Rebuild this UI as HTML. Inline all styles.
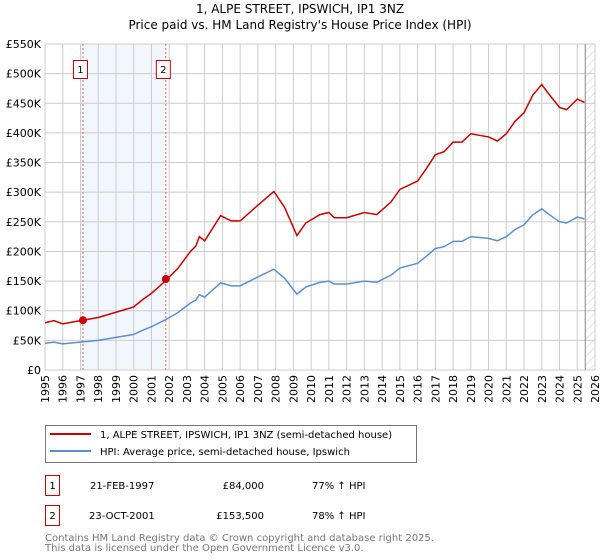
<!DOCTYPE html>
<html><head><meta charset="utf-8">
<style>
body{margin:0;background:#fff;font-family:"DejaVu Sans","Liberation Sans",sans-serif;}
svg{display:block}
</style></head>
<body>
<svg id="chart" width="600" height="560">
<defs>
<pattern id="hatch" width="6" height="6" patternUnits="userSpaceOnUse" patternTransform="rotate(45)">
<line x1="0" y1="0" x2="0" y2="6" stroke="#ccc" stroke-width="1"/>
</pattern>
</defs>
<text x="300" y="13" text-anchor="middle" font-size="12">1, ALPE STREET, IPSWICH, IP1 3NZ</text>
<text x="300" y="29" text-anchor="middle" font-size="12">Price paid vs. HM Land Registry's House Price Index (HPI)</text>
<g id="plot"></g>
<g>
<rect x="45.5" y="425.5" width="371" height="37" fill="#fff" stroke="#777"/>
<line x1="50" y1="434" x2="91" y2="434" stroke="#cc0000" stroke-width="2"/>
<text x="100" y="438" font-size="10">1, ALPE STREET, IPSWICH, IP1 3NZ (semi-detached house)</text>
<line x1="50" y1="451" x2="91" y2="451" stroke="#5b8fd4" stroke-width="2"/>
<text x="100" y="455" font-size="10">HPI: Average price, semi-detached house, Ipswich</text>
</g>
<g font-size="10">
<rect x="45.5" y="475.5" width="14" height="20" fill="#fff" stroke="#cc0000"/>
<text x="52.5" y="489" text-anchor="middle">1</text>
<text x="90" y="489">21-FEB-1997</text>
<text x="264" y="489" text-anchor="end">£84,000</text>
<text x="312" y="489">77% ↑ HPI</text>
<rect x="45.5" y="505.5" width="14" height="20" fill="#fff" stroke="#cc0000"/>
<text x="52.5" y="519" text-anchor="middle">2</text>
<text x="89" y="519">23-OCT-2001</text>
<text x="264" y="519" text-anchor="end">£153,500</text>
<text x="312" y="519">78% ↑ HPI</text>
</g>
<text x="45" y="541" font-size="10" fill="#777">Contains HM Land Registry data © Crown copyright and database right 2025.</text>
<text x="45" y="551" font-size="10" fill="#777">This data is licensed under the Open Government Licence v3.0.</text>
</svg>
<script>
const hpiYears=[1995,1995.5,1996,1997,1998,1999,2000,2000.5,2001,2001.8,2002.5,2003.2,2003.5,2003.7,2004,2004.9,2005.5,2006,2007,2007.9,2008.5,2009.2,2009.7,2010.5,2011,2011.3,2012,2013,2013.7,2014.5,2015,2016,2016.5,2017,2017.5,2018,2018.5,2019,2020,2020.5,2021,2021.5,2022,2022.5,2023,2023.3,2024,2024.4,2025,2025.4];
const hpiValues=[45,47,44,47,50,55,60,67,73,85,97,113,118,127,123,147,142,142,157,170,155,128,140,148,150,145,145,150,148,160,172,180,192,205,208,217,217,225,222,218,225,237,245,262,272,265,250,248,258,255].map(v=>v*1000);
const saleYears=[1997.14,2001.81];
const salePrices=[84000,153500];
const saleLabels=["1","2"];
const yTicks=[0,50000,100000,150000,200000,250000,300000,350000,400000,450000,500000,550000];
const yTickLabels=["£0","£50K","£100K","£150K","£200K","£250K","£300K","£350K","£400K","£450K","£500K","£550K"];
const xTicks=[1995,1996,1997,1998,1999,2000,2001,2002,2003,2004,2005,2006,2007,2008,2009,2010,2011,2012,2013,2014,2015,2016,2017,2018,2019,2020,2021,2022,2023,2024,2025,2026];

const L=45,R=595,T=44,B=370;
const X=y=>L+(y-1995)/(2026-1995)*(R-L);
const Y=v=>B-v/550000*(B-T);
const NS="http://www.w3.org/2000/svg";
const g=document.getElementById('plot');
function mk(tag,attrs,parent){const e=document.createElementNS(NS,tag);for(const k in attrs)e.setAttribute(k,attrs[k]);(parent||g).appendChild(e);return e;}
function hpiAt(t){for(let i=0;i<hpiYears.length-1;i++){if(t<=hpiYears[i+1]){const f=(t-hpiYears[i])/(hpiYears[i+1]-hpiYears[i]);return hpiValues[i]+f*(hpiValues[i+1]-hpiValues[i]);}}return hpiValues[hpiValues.length-1];}

const shade=mk('rect',{x:X(saleYears[0]),y:T,width:X(saleYears[1])-X(saleYears[0]),height:B-T,fill:'#f2f6fd'});


const hatch=mk('rect',{x:X(2025.45),y:T,width:R-X(2025.45),height:B-T,fill:'url(#hatch)'});



yTicks.forEach((v,i)=>{
 const l=mk('line',{x1:L,x2:R,y1:Y(v),y2:Y(v),stroke:'#ccc','stroke-width':1});
 
 
 const t=mk('text',{x:L-4,y:Y(v)+4,'text-anchor':'end','font-size':11});
 t.textContent=yTickLabels[i];
 
 
});
xTicks.forEach(yr=>{
 const l=mk('line',{x1:X(yr),x2:X(yr),y1:T,y2:B,stroke:'#ccc','stroke-width':1});
 
 
 const t=mk('text',{x:0,y:0,'text-anchor':'end','font-size':11,transform:`translate(${X(yr)+4},${B+5}) rotate(-90)`});
 t.textContent=yr;
 
 
});
const edge=mk('line',{x1:X(2025.45),x2:X(2025.45),y1:T,y2:B,stroke:'#888','stroke-width':1});



saleYears.forEach((yr,i)=>{
 const l=mk('line',{x1:X(yr),x2:X(yr),y1:T,y2:B,stroke:'#e06060','stroke-width':1,'stroke-dasharray':'2,2'});
 
 
 const r=mk('rect',{x:X(yr)-9.5,y:60.5,width:14,height:18,fill:'#fff',stroke:'#cc0000'});
 
 
 const t=mk('text',{x:X(yr)-2.5,y:73,'text-anchor':'middle','font-size':10});
 t.textContent=saleLabels[i];
 
 
});

const ratio=salePrices[0]/hpiAt(saleYears[0]);
const hp=mk('polyline',{points:hpiYears.map((yr,i)=>X(yr)+','+Y(hpiValues[i])).join(' '),fill:'none',stroke:'#5b8fd4','stroke-width':1.5});


const pp=mk('polyline',{points:hpiYears.map((yr,i)=>X(yr)+','+Y(hpiValues[i]*ratio)).join(' '),fill:'none',stroke:'#cc0000','stroke-width':1.5});


saleYears.forEach((yr,i)=>{
 const c=mk('circle',{cx:X(yr),cy:Y(salePrices[i]),r:4,fill:'#cc0000'});
 
 
});
</script>
</body></html>
